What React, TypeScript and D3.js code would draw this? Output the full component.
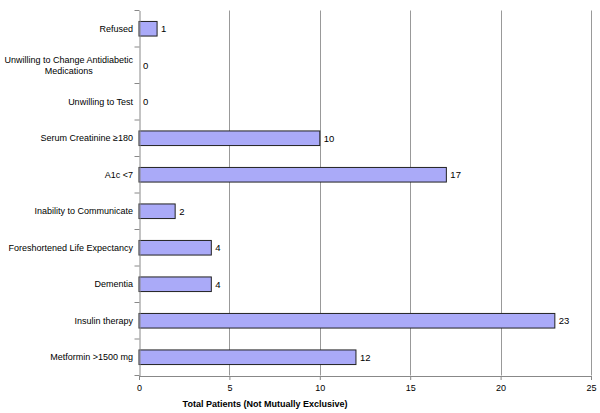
import React, { useEffect, useRef } from 'react';
import * as d3 from 'd3';

const categories = [
  'Refused',
  'Unwilling to Change Antidiabetic|Medications',
  'Unwilling to Test',
  'Serum Creatinine \u2265180',
  'A1c <7',
  'Inability to Communicate',
  'Foreshortened Life Expectancy',
  'Dementia',
  'Insulin therapy',
  'Metformin >1500 mg',
];
const values = [1, 0, 0, 10, 17, 2, 4, 4, 23, 12];
const xTicks = [0, 5, 10, 15, 20, 25];
const xTitle = 'Total Patients (Not Mutually Exclusive)';

const App = () => {
  const ref = useRef<SVGSVGElement>(null);

  useEffect(() => {
    const svg = d3.select(ref.current);
    svg.selectAll('*').remove();

    const width = 600;
    const height = 413;
    const margin = { top: 10.5, right: 9, bottom: 37.5, left: 139 };
    const font = 'Arial, "Liberation Sans", sans-serif';

    const x = d3.scaleLinear().domain([0, 25]).range([margin.left, width - margin.right]);
    const y = d3.scaleBand().domain(categories).range([margin.top, height - margin.bottom]);

    // gridlines
    svg.append('g')
      .selectAll('line')
      .data(xTicks.slice(1))
      .join('line')
      .attr('x1', d => Math.round(x(d)) + 0.5)
      .attr('x2', d => Math.round(x(d)) + 0.5)
      .attr('y1', margin.top)
      .attr('y2', height - margin.bottom)
      .attr('stroke', '#999')
      .attr('stroke-width', 1);

    // bars
    const barH = y.bandwidth() * 0.4;
    svg.append('g')
      .selectAll('rect')
      .data(categories.map((c, i) => ({ c, v: values[i] })))
      .join('rect')
      .filter(d => d.v > 0)
      .attr('x', x(0))
      .attr('y', d => y(d.c)! + (y.bandwidth() - barH) / 2)
      .attr('width', d => x(d.v) - x(0))
      .attr('height', barH)
      .attr('fill', '#aaaaf8')
      .attr('stroke', '#222')
      .attr('stroke-width', 1);

    // value labels
    svg.append('g')
      .selectAll('text')
      .data(categories.map((c, i) => ({ c, v: values[i] })))
      .join('text')
      .attr('x', d => x(d.v) + 4)
      .attr('y', d => y(d.c)! + y.bandwidth() / 2)
      .attr('dy', '0.35em')
      .attr('font-family', font)
      .attr('font-size', 9.5)
      .text(d => d.v);

    // y axis
    const left = svg.append('g')
      .attr('transform', `translate(${margin.left + 0.5},0)`)
      .call(d3.axisLeft(y).tickSize(0).tickFormat(() => ''));
    left.select('.domain').attr('stroke', '#888');
    left.selectAll('.tick').remove();
    left.selectAll('.sep')
      .data(d3.range(categories.length + 1))
      .join('line')
      .attr('class', 'sep')
      .attr('x1', -5)
      .attr('x2', 0)
      .attr('y1', i => margin.top + i * y.step())
      .attr('y2', i => margin.top + i * y.step())
      .attr('stroke', '#888');

    // category labels
    const lab = svg.append('g');
    categories.forEach(c => {
      const lines = c.split('|');
      const cy = y(c)! + y.bandwidth() / 2;
      if (lines.length === 1) {
        lab.append('text')
          .attr('x', margin.left - 6)
          .attr('y', cy)
          .attr('dy', '0.35em')
          .attr('text-anchor', 'end')
          .attr('font-family', font)
          .attr('font-size', 9)
          .text(lines[0]);
      } else {
        const t = lab.append('text')
          .attr('font-family', font)
          .attr('font-size', 9)
          .attr('text-anchor', 'middle');
        const first = t.append('tspan').attr('y', cy - 5.5).attr('dy', '0.35em').text(lines[0]);
        const w = (first.node() as SVGTSpanElement).getComputedTextLength();
        const cx = margin.left - 6 - w / 2;
        first.attr('x', cx);
        t.append('tspan').attr('x', cx).attr('y', cy + 5.5).attr('dy', '0.35em').text(lines[1]);
      }
    });

    // x axis
    const bottom = svg.append('g')
      .attr('transform', `translate(0,${height - margin.bottom + 0.5})`)
      .call(d3.axisBottom(x).tickValues(xTicks).tickSize(4).tickPadding(5));
    bottom.select('.domain').attr('stroke', '#888');
    bottom.selectAll('.tick line').attr('stroke', '#888');
    bottom.selectAll('.tick text')
      .attr('font-family', font)
      .attr('font-size', 9)
      .attr('fill', '#000');

    svg.append('text')
      .attr('x', 265)
      .attr('y', 407)
      .attr('text-anchor', 'middle')
      .attr('font-family', font)
      .attr('font-size', 9)
      .attr('font-weight', 'bold')
      .text(xTitle);
  }, []);

  return (
    <svg
      ref={ref}
      width={600}
      height={413}
      style={{ position: 'absolute', left: 0, top: 0, background: '#fff' }}
    ></svg>
  );
};

export default App;
